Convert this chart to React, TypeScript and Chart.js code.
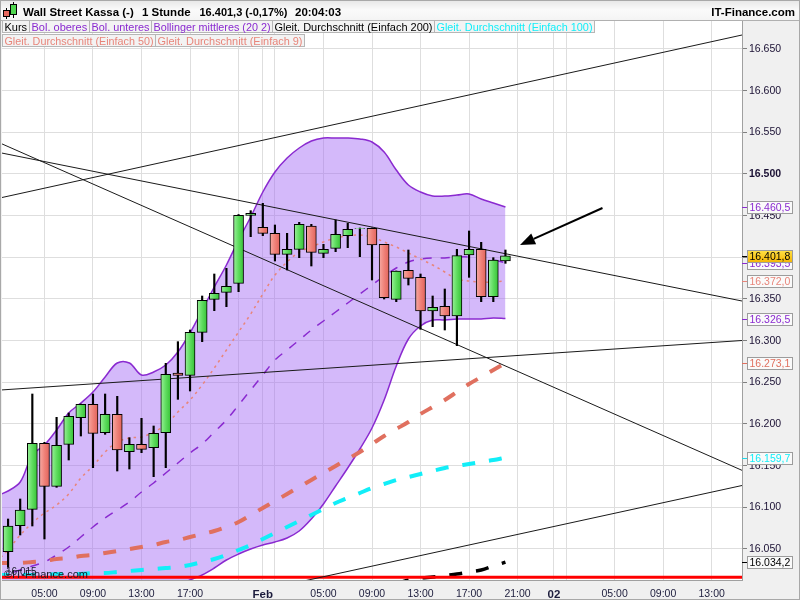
import React, { useEffect, useRef } from 'react';
import { Chart, registerables } from 'chart.js';

Chart.register(...registerables);
Chart.defaults.font.family = '"Liberation Sans", Arial, sans-serif';

// One slot per trading hour. Candle slot 0 = 31 Jan 02:00 (23:00 of 31 Jan not traded), slot 21 = 1 Feb 00:00
const OPEN = [16046.8, 16078.0, 16097.6, 16176.8, 16125.2, 16175.6, 16207.6, 16223.6, 16189.6, 16211.6,
  16166.8, 16175.6, 16171.6, 16189.6, 16261.2, 16258.4, 16310.0, 16349.6, 16358.0, 16368.8,
  16450.4, 16436.0, 16428.8, 16403.6, 16409.6, 16437.6, 16404.8, 16410.8, 16426.0, 16434.6,
  16434.8, 16415.6, 16349.6, 16384.4, 16376.0, 16335.6, 16341.2, 16329.6, 16402.8, 16409.6,
  16352.8, 16395.6];
const HIGH = [16086.0, 16110.0, 16236.0, 16178.0, 16208.0, 16213.2, 16224.0, 16236.0, 16236.0, 16233.2,
  16183.6, 16206.8, 16197.6, 16272.8, 16298.8, 16312.8, 16353.6, 16380.0, 16386.8, 16451.4,
  16456.0, 16464.8, 16438.8, 16428.8, 16442.0, 16439.6, 16415.6, 16444.8, 16440.8, 16435.2,
  16435.2, 16415.6, 16383.6, 16408.8, 16380.0, 16353.6, 16362.0, 16409.6, 16431.6, 16418.0,
  16399.6, 16408.8];
const LOW = [16028.0, 16066.8, 16077.6, 16062.0, 16124.0, 16156.8, 16185.6, 16147.6, 16187.6, 16143.6,
  16146.0, 16165.6, 16136.8, 16147.6, 16229.6, 16239.6, 16298.8, 16336.0, 16340.8, 16358.8,
  16424.8, 16426.0, 16395.6, 16384.8, 16399.6, 16389.6, 16399.6, 16406.8, 16411.6, 16400.8,
  16372.8, 16350.0, 16346.8, 16366.8, 16313.6, 16316.8, 16312.8, 16294.0, 16376.0, 16346.8,
  16346.8, 16392.8];
const CLOSE = [16077.6, 16096.8, 16176.8, 16125.2, 16174.4, 16209.2, 16223.6, 16188.8, 16211.6, 16168.8,
  16175.6, 16169.6, 16188.8, 16259.6, 16258.4, 16310.0, 16348.4, 16356.8, 16365.2, 16450.4,
  16452.8, 16428.8, 16403.6, 16409.6, 16439.6, 16406.0, 16409.6, 16427.6, 16433.6, 16434.8,
  16414.8, 16351.6, 16383.6, 16374.8, 16335.6, 16340.0, 16329.6, 16402.0, 16409.6, 16352.8,
  16396.8, 16401.8];

// Indicator series start one slot earlier (slot -1, 31 Jan 01:00) so they reach the left edge
const IND_FIRST_SLOT = -1;
const BB_UPPER = [16113.6, 16119.6, 16130.4, 16162.8, 16174.8, 16192.8, 16213.2, 16225.2, 16238.4, 16256.4, 16273.2,
  16273.2, 16258.8, 16262.4, 16270.8, 16286.4, 16309.2, 16336.8, 16364.4, 16390.8, 16420.8,
  16448.4, 16478.4, 16502.4, 16519.2, 16531.2, 16539.6, 16543.2, 16543.2, 16543.2, 16542.0,
  16538.4, 16526.4, 16504.8, 16486.8, 16478.4, 16473.6, 16473.6, 16474.8, 16476.0, 16470.0,
  16465.2, 16460.5];
const BB_LOWER = [15922.0, 15920.0, 15915.0, 15910.0, 15912.0, 15915.0, 15920.0, 15925.0, 15932.0, 15940.0, 15950.0,
  15960.0, 15972.0, 15985.0, 15995.0, 16005.0, 16012.8, 16018.8, 16027.2, 16036.8, 16044.0,
  16050.0, 16054.8, 16058.4, 16063.2, 16071.6, 16086.0, 16104.0, 16125.6, 16147.2, 16170.0,
  16195.2, 16228.8, 16269.6, 16302.0, 16317.6, 16324.8, 16324.8, 16326.0, 16326.0, 16326.0,
  16327.2, 16326.5];
const BB_MID = [16016.4, 16020.0, 16024.8, 16029.6, 16034.4, 16042.8, 16052.4, 16064.4, 16076.4, 16087.2, 16096.8,
  16106.4, 16118.4, 16129.2, 16141.2, 16153.2, 16165.2, 16176.0, 16190.4, 16204.8, 16222.8,
  16240.8, 16258.8, 16276.8, 16288.8, 16300.8, 16312.8, 16323.6, 16334.4, 16345.2, 16356.0,
  16366.8, 16377.6, 16387.2, 16394.4, 16398.0, 16399.2, 16399.2, 16400.4, 16400.4, 16398.0,
  16396.8, 16393.5];
const SMA9 = [16034.4, 16048.8, 16066.8, 16081.2, 16093.2, 16102.8, 16116.0, 16135.2, 16149.6, 16166.4, 16178.4,
  16183.2, 16184.4, 16190.4, 16198.8, 16214.4, 16228.8, 16246.8, 16267.2, 16288.8, 16310.4,
  16332.0, 16356.0, 16378.8, 16394.4, 16406.4, 16412.4, 16418.4, 16423.2, 16425.6, 16426.8,
  16424.4, 16418.4, 16412.4, 16405.2, 16398.0, 16390.8, 16382.4, 16374.0, 16371.6, 16370.4,
  16370.4, 16372.0];
const SMA50 = [16033.2, 16033.2, 16033.2, 16034.4, 16035.6, 16038.0, 16039.2, 16041.6, 16042.8, 16045.2, 16047.6,
  16050.0, 16052.4, 16054.8, 16058.4, 16060.8, 16064.4, 16068.0, 16071.6, 16076.4, 16082.4,
  16090.8, 16099.2, 16107.6, 16116.0, 16124.4, 16132.8, 16141.2, 16149.6, 16158.0, 16166.4,
  16176.0, 16185.6, 16194.0, 16202.4, 16212.0, 16220.4, 16228.8, 16238.4, 16248.0, 16256.4,
  16264.8, 16273.1];
const SMA100 = [16018.8, 16018.8, 16018.8, 16018.8, 16018.8, 16020.0, 16020.0, 16020.0, 16021.2, 16021.2, 16022.4,
  16023.6, 16024.8, 16026.0, 16027.2, 16028.4, 16030.8, 16034.4, 16038.0, 16042.8, 16048.8,
  16054.8, 16062.0, 16069.2, 16076.4, 16083.6, 16090.8, 16098.0, 16105.2, 16111.2, 16117.2,
  16123.2, 16128.0, 16132.8, 16136.4, 16140.0, 16143.6, 16147.2, 16149.6, 16152.0, 16154.4,
  16156.8, 16159.7];
// SMA200 lies below the visible range before slot 32
const SMA200 = [...Array(33).fill(null), 16008.0, 16012.8, 16015.2, 16016.4, 16018.2, 16020.0, 16022.4, 16024.8,
  16029.6, 16034.2];

// Hand-drawn trend lines: [slot, price] start and end
const TREND_RISING_TOP = [[-0.5, 16471.8], [60.5, 16666.8]];
const TREND_FALLING_STEEP = [[-0.5, 16536.1], [60.5, 16144.4]];
const TREND_FALLING_FLAT = [[-0.5, 16525.1], [60.5, 16347.6]];
const TREND_RISING_MID = [[-0.5, 16240.9], [60.5, 16300.2]];
const TREND_RISING_LOW = [[24, 16010.4], [60.5, 16126.2]];
const SUPPORT_LEVEL = 16016.0;
const ARROW = [[49.0, 16459.2], [42.2, 16414.8]];

const X_MIN = -0.5;
const X_MAX = 60.5;
const X_TICK_SLOTS = [3, 7, 11, 15, 19, 21, 22, 26, 30, 34, 38, 42, 45, 46, 50, 54, 58];
const X_TICK_LABELS = ['05:00', '09:00', '13:00', '17:00', '', 'Feb', '', '05:00', '09:00', '13:00', '17:00', '21:00', '02', '', '05:00', '09:00', '13:00'];
const DAY_LABELS = ['Feb', '02'];
const Y_MIN = 16012.8;
const Y_MAX = 16683.6;
const Y_TICKS = [16050, 16100, 16150, 16200, 16250, 16300, 16350, 16400, 16450, 16500, 16550, 16600, 16650];
const Y_BOLD_TICK = 16500;

const TITLE = 'Wall Street Kassa (-)';
const PERIOD = '1 Stunde';
const QUOTE = '16.401,3 (-0,17%)';
const TIME = '20:04:03';
const BRAND = 'IT-Finance.com';
const WATERMARK = '©IT-Finance.com';

const PURPLE = '#8a2ad0';
const SALMON = '#e8857a';
const SALMON_DARK = '#e0705f';
const CYAN = '#12eef8';
const FONT = '"Liberation Sans", Arial, sans-serif';

function fmtDE(v: number, d: number) {
  const s = v.toFixed(d);
  const [i, dec] = s.split('.');
  const intF = i.replace(/\B(?=(\d{3})+(?!\d))/g, '.');
  return dec !== undefined ? intF + ',' + dec : intF;
}

const pts = (arr: any[]) => arr.map((v, i) => ({ x: i + IND_FIRST_SLOT, y: v }));
const seg = (s: number[][]) => s.map(([x, y]) => ({ x, y }));

const overlayPlugin = {
  id: 'itfOverlay',
  beforeDraw(chart: any) {
    const { ctx, chartArea: a } = chart;
    ctx.save();
    ctx.fillStyle = '#f0f0f0';
    ctx.fillRect(0, 0, chart.width, chart.height);
    ctx.fillStyle = '#ffffff';
    ctx.fillRect(a.left, a.top, a.right - a.left, a.bottom - a.top);
    ctx.restore();
  },
  afterDraw(chart: any) {
    const { ctx, chartArea: a, scales } = chart;
    const xs = scales.x, ys = scales.y;
    ctx.save();

    // arrow
    const x0 = xs.getPixelForValue(ARROW[0][0]), y0 = ys.getPixelForValue(ARROW[0][1]);
    const x1 = xs.getPixelForValue(ARROW[1][0]), y1 = ys.getPixelForValue(ARROW[1][1]);
    const ang = Math.atan2(y1 - y0, x1 - x0);
    const hl = 15, hw = 6;
    const bx = x1 - hl * Math.cos(ang), by = y1 - hl * Math.sin(ang);
    ctx.strokeStyle = '#000'; ctx.lineWidth = 2;
    ctx.beginPath(); ctx.moveTo(x0, y0); ctx.lineTo(bx, by); ctx.stroke();
    ctx.fillStyle = '#000';
    ctx.beginPath();
    ctx.moveTo(x1, y1);
    ctx.lineTo(bx + hw * Math.sin(ang), by - hw * Math.cos(ang));
    ctx.lineTo(bx - hw * Math.sin(ang), by + hw * Math.cos(ang));
    ctx.closePath(); ctx.fill();
    ctx.lineWidth = 1;

    // watermark
    ctx.font = '11px ' + FONT;
    ctx.fillStyle = '#1a1a2a';
    ctx.textBaseline = 'alphabetic';
    ctx.fillText(WATERMARK, a.left + 2, a.bottom - 2);
    ctx.font = '10px ' + FONT;
    ctx.fillText(fmtDE(Y_MIN + 2.2, 0), a.left + 4, a.bottom - 5);

    // header
    const g = ctx.createLinearGradient(0, 0, 0, 20);
    g.addColorStop(0, '#e6e6e6'); g.addColorStop(0.5, '#fafafa'); g.addColorStop(1, '#f4f4f4');
    ctx.fillStyle = g; ctx.fillRect(0, 0, chart.width, 20.5);
    ctx.strokeStyle = '#b0b0b0';
    ctx.beginPath(); ctx.moveTo(0, 20.5); ctx.lineTo(chart.width, 20.5); ctx.stroke();
    // icon
    ctx.strokeStyle = '#000';
    ctx.beginPath(); ctx.moveTo(6.5, 8); ctx.lineTo(6.5, 19); ctx.moveTo(13.5, 2); ctx.lineTo(13.5, 18); ctx.stroke();
    ctx.fillStyle = '#e86a60'; ctx.fillRect(3.5, 10.5, 6, 6); ctx.strokeRect(3.5, 10.5, 6, 6);
    ctx.fillStyle = '#4fd64f'; ctx.fillRect(10.5, 4.5, 6, 10); ctx.strokeRect(10.5, 4.5, 6, 10);
    ctx.fillStyle = '#000';
    ctx.font = 'bold 11.5px ' + FONT;
    ctx.fillText(TITLE, 23, 15.5, 111);
    ctx.fillText(PERIOD, 142, 15.5);
    ctx.fillText(QUOTE, 199.5, 15.5, 88);
    ctx.fillText(TIME, 295, 15.5);
    ctx.textAlign = 'right';
    ctx.fillText(BRAND, 795, 15.5);
    ctx.textAlign = 'left';

    // legend
    const items: [string, string, number, number, number][] = [
      ['Kurs', '#000', 2, 29, 0],
      ['Bol. oberes', PURPLE, 29, 89, 0],
      ['Bol. unteres', PURPLE, 89, 151, 0],
      ['Bollinger mittleres (20 2)', PURPLE, 151, 272, 0],
      ['Gleit. Durchschnitt (Einfach 200)', '#000', 272, 434, 0],
      ['Gleit. Durchschnitt (Einfach 100)', CYAN, 434, 594, 0],
      ['Gleit. Durchschnitt (Einfach 50)', SALMON, 2, 155, 1],
      ['Gleit. Durchschnitt (Einfach 9)', SALMON, 155, 304, 1],
    ];
    ctx.font = '11px ' + FONT;
    for (const [t, c, l, r, row] of items) {
      const top = row === 0 ? 20.5 : 34.5;
      ctx.fillStyle = '#f3f3f3';
      ctx.fillRect(l + 0.5, top, r - l, 12);
      ctx.strokeStyle = '#b6b6b6';
      ctx.strokeRect(l + 0.5, top, r - l, 12);
      ctx.fillStyle = c;
      ctx.fillText(t, l + 2.5, top + 10, r - l - 4);
    }

    // right-axis value boxes
    const lastOf = (arr: any[]) => arr[arr.length - 1] as number;
    const boxes: [number, string, boolean][] = [
      [lastOf(BB_MID), PURPLE, false],
      [lastOf(BB_UPPER), PURPLE, false],
      [lastOf(BB_LOWER), PURPLE, false],
      [lastOf(SMA9), SALMON, false],
      [lastOf(SMA50), SALMON_DARK, false],
      [lastOf(SMA100), CYAN, false],
      [lastOf(SMA200), '#000', false],
      [lastOf(CLOSE), '#000', true],
    ];
    ctx.font = '10.5px ' + FONT;
    ctx.textBaseline = 'middle';
    for (const [v, c, cur] of boxes) {
      const y = Math.round(ys.getPixelForValue(v));
      ctx.strokeStyle = c === CYAN ? '#1fd8e8' : c;
      ctx.beginPath(); ctx.moveTo(742, y + 0.5); ctx.lineTo(747, y + 0.5); ctx.stroke();
      if (cur) {
        const gg = ctx.createLinearGradient(0, y - 6, 0, y + 7);
        gg.addColorStop(0, '#ffe24a'); gg.addColorStop(1, '#f6b400');
        ctx.fillStyle = gg;
      } else {
        ctx.fillStyle = '#fafafa';
      }
      ctx.fillRect(747.5, y - 6, 45, 13);
      ctx.strokeStyle = '#9c9c9c';
      ctx.strokeRect(747.5, y - 5.5, 45, 12);
      ctx.fillStyle = c;
      ctx.fillText(fmtDE(v, 1), 749.5, y + 1);
    }

    // outer frame
    ctx.strokeStyle = '#a8a8a8';
    ctx.strokeRect(0.5, 0.5, chart.width - 1, chart.height - 1);
    ctx.restore();
  },
};

function bodyColor(c: any) {
  const i = c.dataIndex;
  if (i === undefined) return '#5cdb5c';
  const up = CLOSE[i] >= OPEN[i];
  const xs = c.chart && c.chart.scales ? c.chart.scales.x : null;
  if (!xs || !isFinite(xs.getPixelForValue(i))) return up ? '#5cdb5c' : '#ef8078';
  const px = xs.getPixelForValue(i);
  const g = c.chart.ctx.createLinearGradient(px - 5, 0, px + 5, 0);
  if (up) {
    g.addColorStop(0, '#9af09a'); g.addColorStop(0.5, '#5fdc5f'); g.addColorStop(1, '#36c236');
  } else {
    g.addColorStop(0, '#f7aaa3'); g.addColorStop(0.5, '#ef8279'); g.addColorStop(1, '#e2625a');
  }
  return g;
}

export default function App() {
  const ref = useRef<HTMLCanvasElement>(null);
  useEffect(() => {
    const canvas = ref.current as HTMLCanvasElement;
    const candleIdx = CLOSE.map((_, i) => i);
    const lineBase = { type: 'line', pointRadius: 0, clip: 0, tension: 0.35, fill: false };
    const trend = (s: number[][]) => ({ ...lineBase, tension: 0, data: seg(s), borderColor: '#1a1a1a', borderWidth: 1, order: 12 });
    const chart = new Chart(canvas, {
      type: 'line',
      data: {
        datasets: [
          { ...lineBase, data: pts(BB_UPPER), borderColor: PURPLE, borderWidth: 1.5, order: 19 },
          { ...lineBase, data: pts(BB_LOWER), borderColor: PURPLE, borderWidth: 1.5, order: 20,
            fill: '-1', backgroundColor: 'rgba(160, 100, 245, 0.45)' },
          { ...lineBase, data: pts(BB_MID), borderColor: PURPLE, borderWidth: 1.5, borderDash: [9, 9], order: 18 },
          { ...lineBase, data: pts(SMA9), borderColor: SALMON, borderWidth: 1.5, borderDash: [2.5, 4], order: 17 },
          { ...lineBase, data: pts(SMA50), borderColor: SALMON_DARK, borderWidth: 4, borderDash: [13, 14], order: 16 },
          { ...lineBase, data: pts(SMA100), borderColor: CYAN, borderWidth: 4, borderDash: [13, 14], order: 15 },
          { ...lineBase, data: pts(SMA200), borderColor: '#000', borderWidth: 3.5, borderDash: [13, 14], order: 14, spanGaps: false },
          { ...lineBase, tension: 0, data: seg([[X_MIN, SUPPORT_LEVEL], [X_MAX, SUPPORT_LEVEL]]), borderColor: '#ff0000', borderWidth: 3, order: 13 },
          trend(TREND_RISING_TOP),
          trend(TREND_FALLING_STEEP),
          trend(TREND_FALLING_FLAT),
          trend(TREND_RISING_MID),
          trend(TREND_RISING_LOW),
          {
            type: 'bar', data: candleIdx.map(i => ({ x: i, y: [LOW[i], HIGH[i]] })),
            backgroundColor: '#000', borderWidth: 0, barThickness: 1.5, grouped: false, order: 2,
          },
          {
            type: 'bar', data: candleIdx.map(i => ({ x: i, y: [OPEN[i], CLOSE[i]] })),
            backgroundColor: bodyColor,
            borderColor: '#000', borderWidth: 1, borderSkipped: false, barThickness: 10, grouped: false, order: 1,
          },
        ] as any,
      },
      options: {
        responsive: false,
        animation: false,
        devicePixelRatio: 1,
        layout: { padding: { top: 21, left: 2, right: 0, bottom: 0 } },
        plugins: { legend: { display: false }, tooltip: { enabled: false } },
        scales: {
          x: {
            type: 'linear', min: X_MIN, max: X_MAX, offset: false,
            afterBuildTicks: (s: any) => { s.ticks = X_TICK_SLOTS.map(v => ({ value: v })); },
            afterFit: (s: any) => { s.height = 20; },
            grid: { color: '#dedede', drawTicks: false, offset: false },
            border: { display: true, color: '#a0a0a0' },
            ticks: {
              autoSkip: false, maxRotation: 0, padding: 8, color: '#1c1c3c',
              callback: (v: any) => { const k = X_TICK_SLOTS.indexOf(v); return k >= 0 ? X_TICK_LABELS[k] : ''; },
              font: (c: any) => {
                const k = c.tick ? X_TICK_SLOTS.indexOf(c.tick.value) : -1;
                const day = k >= 0 && DAY_LABELS.includes(X_TICK_LABELS[k]);
                return { size: day ? 11.5 : 10.5, weight: day ? 'bold' : 'normal', family: FONT };
              },
            },
          },
          y: {
            type: 'linear', position: 'right', min: Y_MIN, max: Y_MAX,
            afterBuildTicks: (s: any) => { s.ticks = Y_TICKS.map(v => ({ value: v })); },
            afterFit: (s: any) => { s.width = 58; },
            grid: { color: '#dedede', tickLength: 5, tickColor: '#808080' },
            border: { display: true, color: '#a0a0a0' },
            ticks: {
              padding: 2, color: '#1a1033',
              callback: (v: any) => fmtDE(Number(v), 0),
              font: (c: any) => ({ size: 10.5, family: FONT, weight: c.tick && c.tick.value === Y_BOLD_TICK ? 'bold' : 'normal' }),
            },
          },
        },
      } as any,
      plugins: [overlayPlugin as any],
    });
    return () => chart.destroy();
  }, []);
  return (
    <div style={{ position: 'absolute', left: 0, top: 0, width: 800, height: 600 }}>
      <canvas ref={ref} width={800} height={600} style={{ display: 'block', width: 800, height: 600 }} />
    </div>
  );
}
